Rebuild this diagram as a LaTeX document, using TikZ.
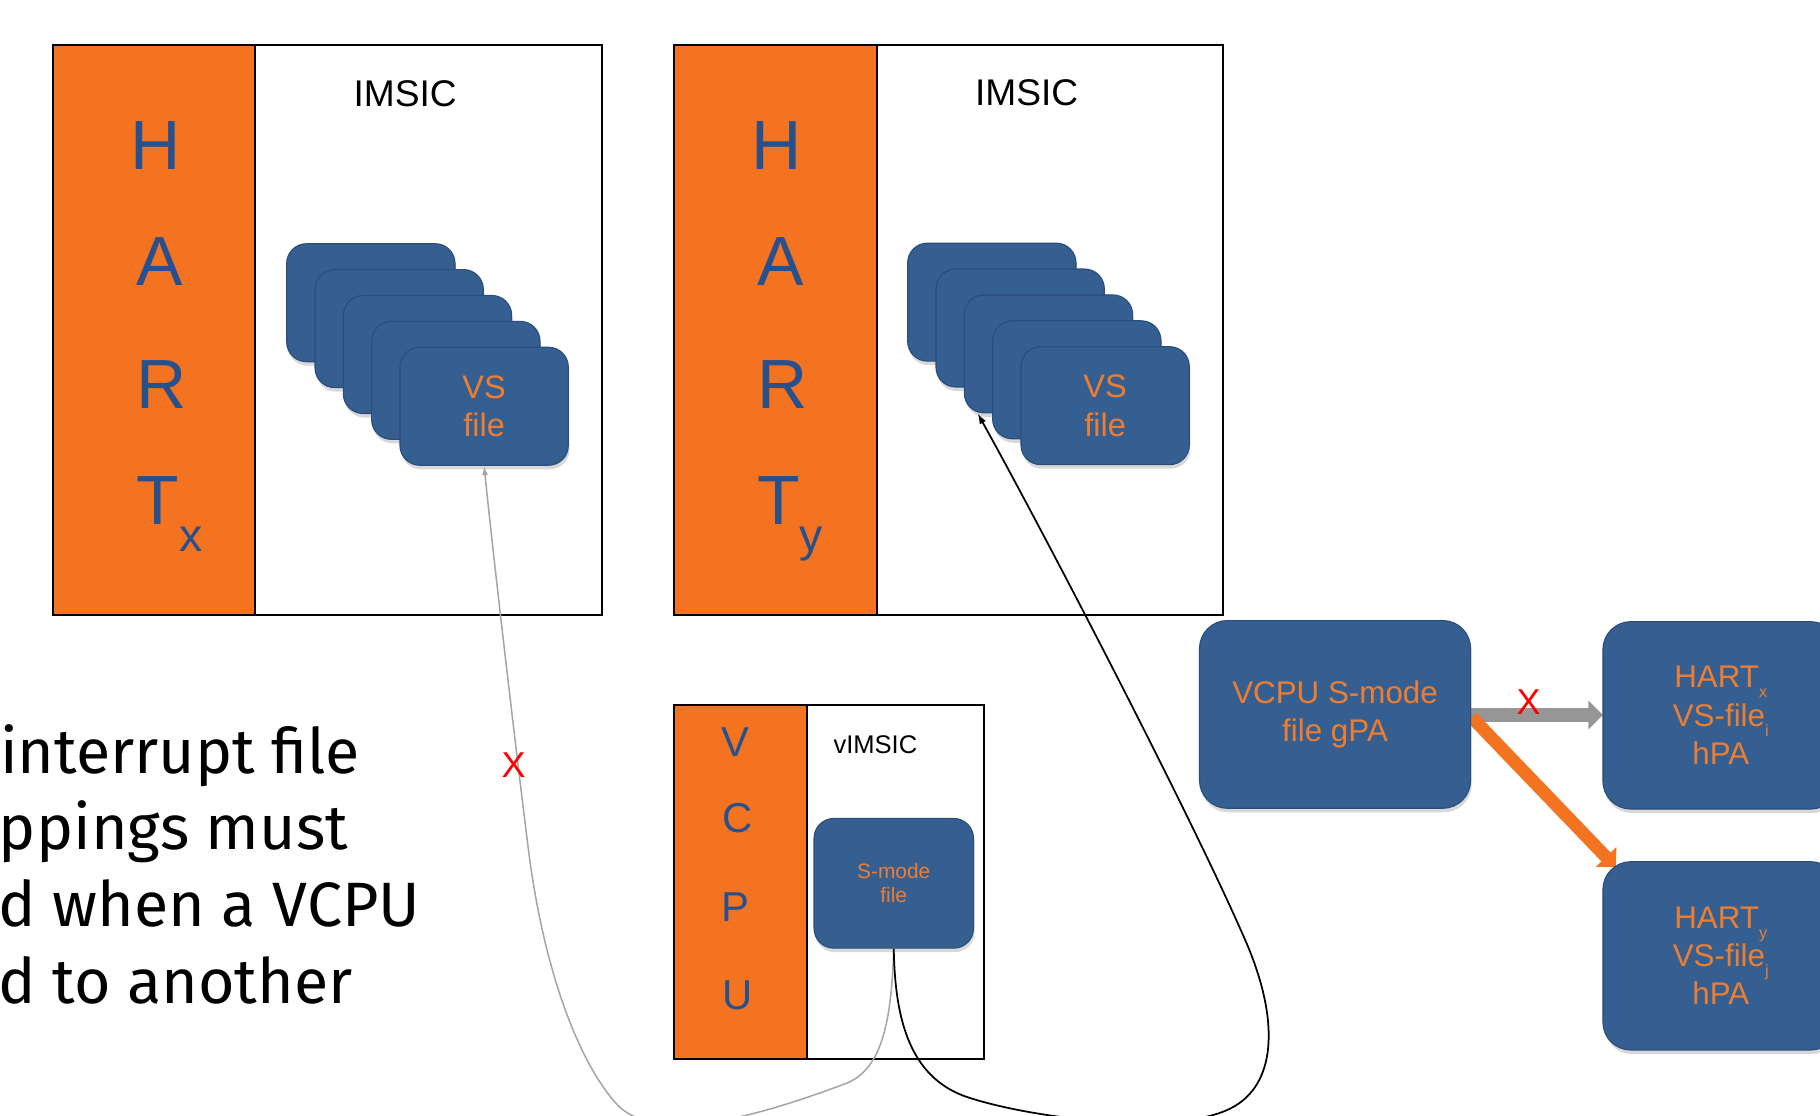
\documentclass[tikz,border=0pt]{standalone}
\usepackage{fontspec}
\setmainfont{Liberation Sans}
\newfontfamily\plexfont{Fira Sans}
\usetikzlibrary{arrows.meta,shadows,calc}
\definecolor{hartorange}{RGB}{243,115,33}
\definecolor{letterblue}{RGB}{40,80,140}
\definecolor{boxblue}{RGB}{54,95,145}
\definecolor{boxedge}{RGB}{42,78,124}
\definecolor{textorange}{RGB}{237,125,49}
\definecolor{arrowgray}{RGB}{150,150,150}
\definecolor{curvegray}{RGB}{165,165,165}
\definecolor{xred}{RGB}{255,0,0}
\newcommand\fsz[2]{\fontsize{#1}{#2}\selectfont}
\newcommand\subdn[1]{\raisebox{-8.5pt}{\fontsize{14}{14}\selectfont #1}}
\begin{document}
\begin{tikzpicture}[x=1pt,y=-1pt,
  framebox/.style={draw=black, line width=1.8pt, inner sep=0pt, anchor=north west},
  ocol/.style={framebox, fill=hartorange},
  bigletter/.style={text=letterblue, font=\fsz{60}{60}, anchor=base, inner sep=0pt},
  subletter/.style={text=letterblue, font=\fsz{40}{40}, anchor=base, inner sep=0pt},
  vletter/.style={text=letterblue, font=\fsz{36}{36}, anchor=base, inner sep=0pt},
  boxlabel/.style={font=\fsz{32}{32}, anchor=base, inner sep=0pt},
  bluebox/.style={rectangle, fill=boxblue, draw=boxedge, line width=1pt, inner sep=0pt,
     text=textorange, align=center,
     drop shadow={shadow xshift=1pt, shadow yshift=-3.5pt, opacity=0.3}},
  vsbox/.style={bluebox, rounded corners=17pt, minimum width=145pt, minimum height=101.6pt, font=\fsz{28}{33}},
  bigbox/.style={bluebox, rounded corners=24pt, font=\fsz{27}{33}},
  redx/.style={text=xred, font=\fsz{31}{31}, inner sep=0pt},
  leftline/.style={font=\plexfont\fsz{54}{54}, anchor=base east, inner sep=0pt},
  thickgray/.style={draw=arrowgray, line width=12pt, -{Triangle[length=12.5pt,width=24pt]}},
  thickorange/.style={draw=hartorange, line width=11pt, -{Triangle[length=12pt,width=24pt]}},
  graycurve/.style={draw=curvegray, line width=1.3pt, -{Latex[length=8pt,width=5pt]}},
  blackcurve/.style={draw=black, line width=1.5pt, -{Latex[length=9pt,width=6pt]}}
]
\path[use as bounding box] (0,0) rectangle (1568,961);
\clip (0,0) rectangle (1568,961);
\fill[white] (0,0) rectangle (1568,961);

% HART x
\node[framebox, minimum width=473pt, minimum height=491pt] (hx) at (45,38) {};
\node[ocol, minimum width=174pt, minimum height=491pt] (hxo) at (45,38) {};
\node[boxlabel] (hxl) at (349,91.5) {IMSIC};
\node[bigletter] (hxH) at (134.5,146) {H};
\node[bigletter] (hxA) at (137.5,246) {A};
\node[bigletter] (hxR) at (139.3,352) {R};
\node[bigletter] (hxT) at (136,452) {T};
\node[subletter] (hxs) at (164.5,475) {x};
\foreach \k in {1,...,4}
  \node[vsbox] (hx\k) at ({319.5+24.4*(\k-1)},{260.8+22.3*(\k-1)}) {};
\node[vsbox] (hx5) at (417.1,350) {VS\\file};

% HART y
\node[framebox, minimum width=472.5pt, minimum height=491pt] (hy) at (580,38) {};
\node[ocol, minimum width=174.5pt, minimum height=491pt] (hyo) at (580,38) {};
\node[boxlabel] (hyl) at (884.5,91) {IMSIC};
\node[bigletter] (hyH) at (669.5,146) {H};
\node[bigletter] (hyA) at (672.5,246) {A};
\node[bigletter] (hyR) at (674.3,352) {R};
\node[bigletter] (hyT) at (671,452) {T};
\node[subletter] (hys) at (699,475) {y};
\foreach \k in {1,...,4}
  \node[vsbox] (hy\k) at ({854.5+24.4*(\k-1)},{260.3+22.3*(\k-1)}) {};
\node[vsbox] (hy5) at (952.1,349.5) {VS\\file};

% VCPU
\node[framebox, minimum width=267pt, minimum height=305pt] (vc) at (580,606.5) {};
\node[ocol, minimum width=114.5pt, minimum height=305pt] (vco) at (580,606.5) {};
\node[boxlabel, font=\fsz{22}{22}] (vcl) at (754.2,649) {vIMSIC};
\node[vletter] (vV) at (634,652) {V};
\node[vletter] (vC) at (635.4,717) {C};
\node[vletter] (vP) at (634,794) {P};
\node[vletter] (vU) at (635.3,870) {U};
\node[bluebox, rounded corners=17pt, minimum width=137.3pt, minimum height=111.7pt, font=\fsz{18}{21}] (sm) at (770,761) {S-mode\\file};

% left text (partially off the page, as in the reference)
\node[leftline, anchor=base west] (t1) at (0,666) {interrupt file};
\node[leftline] (t2) at (300,732) {ppings must};
\node[leftline] (t3) at (362,798.4) {d when a VCPU};
\node[leftline, anchor=base west] (t4) at ($(t3.base west)+(0,66)$) {d to another};

% right side
\draw[thickgray] (1267,616) -- (1381,616);
\coordinate (otip) at (1392,747);
\draw[thickorange] (1268,618) -- (otip);
\node[bigbox, minimum width=233.5pt, minimum height=161.7pt] (vg) at (1150.2,615.5) {VCPU S-mode\\file gPA};
\node[bigbox, minimum width=203pt, minimum height=161.4pt] (hxb) at (1482.5,616.3) {HART\subdn{x}\\VS-file\subdn{i}\\hPA};
\node[bigbox, minimum width=203pt, minimum height=162.2pt] (hyb) at (1482.5,823.5) {HART\subdn{y}\\VS-file\subdn{j}\\hPA};
\node[redx] (xb) at (1317,605) {X};

% curves
\draw[graycurve] (sm.south) .. controls (768,880) and (760,920) .. (730,933)
   .. controls (650,963) and (570,985) .. (534,954)
   .. controls (505,925) and (470,850) .. (455,730)
   .. controls (445,650) and (425,480) .. (hx5.south);
\draw[blackcurve] (sm.south) .. controls (771,870) and (780,925) .. (830,944)
   .. controls (880,962) and (1010,980) .. (1060,955)
   .. controls (1100,935) and (1102,880) .. (1075,815)
   .. controls (1030,710) and (900,460) .. ($(hy3.south west)+(12,0)$);
\node[redx] (xa) at (442.5,659) {X};
\end{tikzpicture}
\end{document}
